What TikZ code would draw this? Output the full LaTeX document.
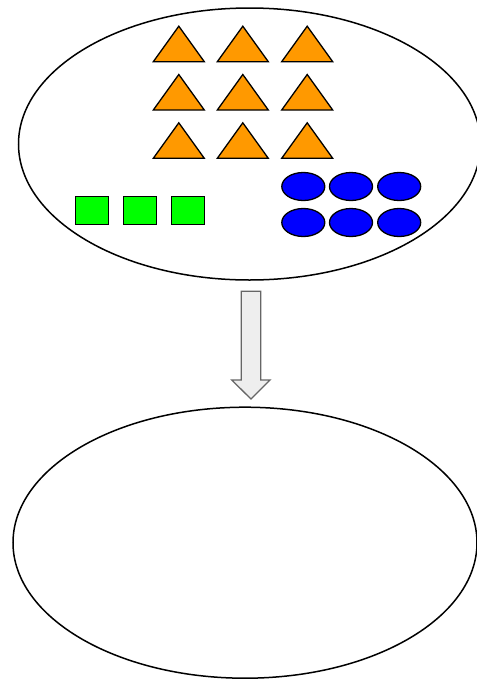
\documentclass[tikz,border=0pt]{standalone}
\usetikzlibrary{shapes.geometric}
\definecolor{tri}{HTML}{FF9900}
\definecolor{sq}{HTML}{00FF00}
\definecolor{ov}{HTML}{0000FF}
\definecolor{arrfill}{HTML}{EEEEEE}
\definecolor{arrline}{HTML}{666666}
\tikzset{
  bigoval/.style={draw=black, line width=1.5pt, ellipse, minimum width=#1, inner sep=0pt},
  sqbox/.style={draw=black, fill=sq, line width=1.3pt, minimum width=33pt, minimum height=28pt, inner sep=0pt},
  ovbox/.style={draw=black, fill=ov, line width=1.3pt, ellipse, minimum width=43pt, minimum height=28pt, inner sep=0pt},
  trishape/.style={draw=black, fill=tri, line width=1.3pt, line join=miter},
  blockarrow/.style={draw=arrline, fill=arrfill, line width=1.3pt}
}
\begin{document}
\begin{tikzpicture}[x=1pt,y=-1pt]
\useasboundingbox (0,0) rectangle (477,681);
\fill[white] (0,0) rectangle (477,681);
% big ellipses
\node[bigoval=462pt, minimum height=272pt] (top) at (249.5,144) {};
\node[bigoval=464pt, minimum height=271pt] (bottom) at (245,542.7) {};
% triangles
\foreach \c/\x in {1/153.3,2/217.3,3/281.7}{
  \foreach \r/\y in {1/61.7,2/110,3/158.3}{
    \draw[trishape] (\x,\y) -- ++(51,0) -- ++(-25.5,-35.5) -- cycle;
  }
}
% squares
\node[sqbox] (s1) at (91.7,210.7) {};
\node[sqbox] (s2) at (140,210.7) {};
\node[sqbox] (s3) at (188,210.7) {};
% ovals
\node[ovbox] (o1) at (303.3,186.5) {};
\node[ovbox] (o2) at (351,186.5) {};
\node[ovbox] (o3) at (399.2,186.5) {};
\node[ovbox] (o4) at (303.3,222.5) {};
\node[ovbox] (o5) at (351,222.5) {};
\node[ovbox] (o6) at (399.2,222.5) {};
% block arrow
\draw[blockarrow, line join=miter] (241.3,291.3) -- (260.7,291.3) -- (260.7,380) -- (270,380) -- (251,399) -- (231.7,380) -- (241.3,380) -- cycle;
\end{tikzpicture}
\end{document}
